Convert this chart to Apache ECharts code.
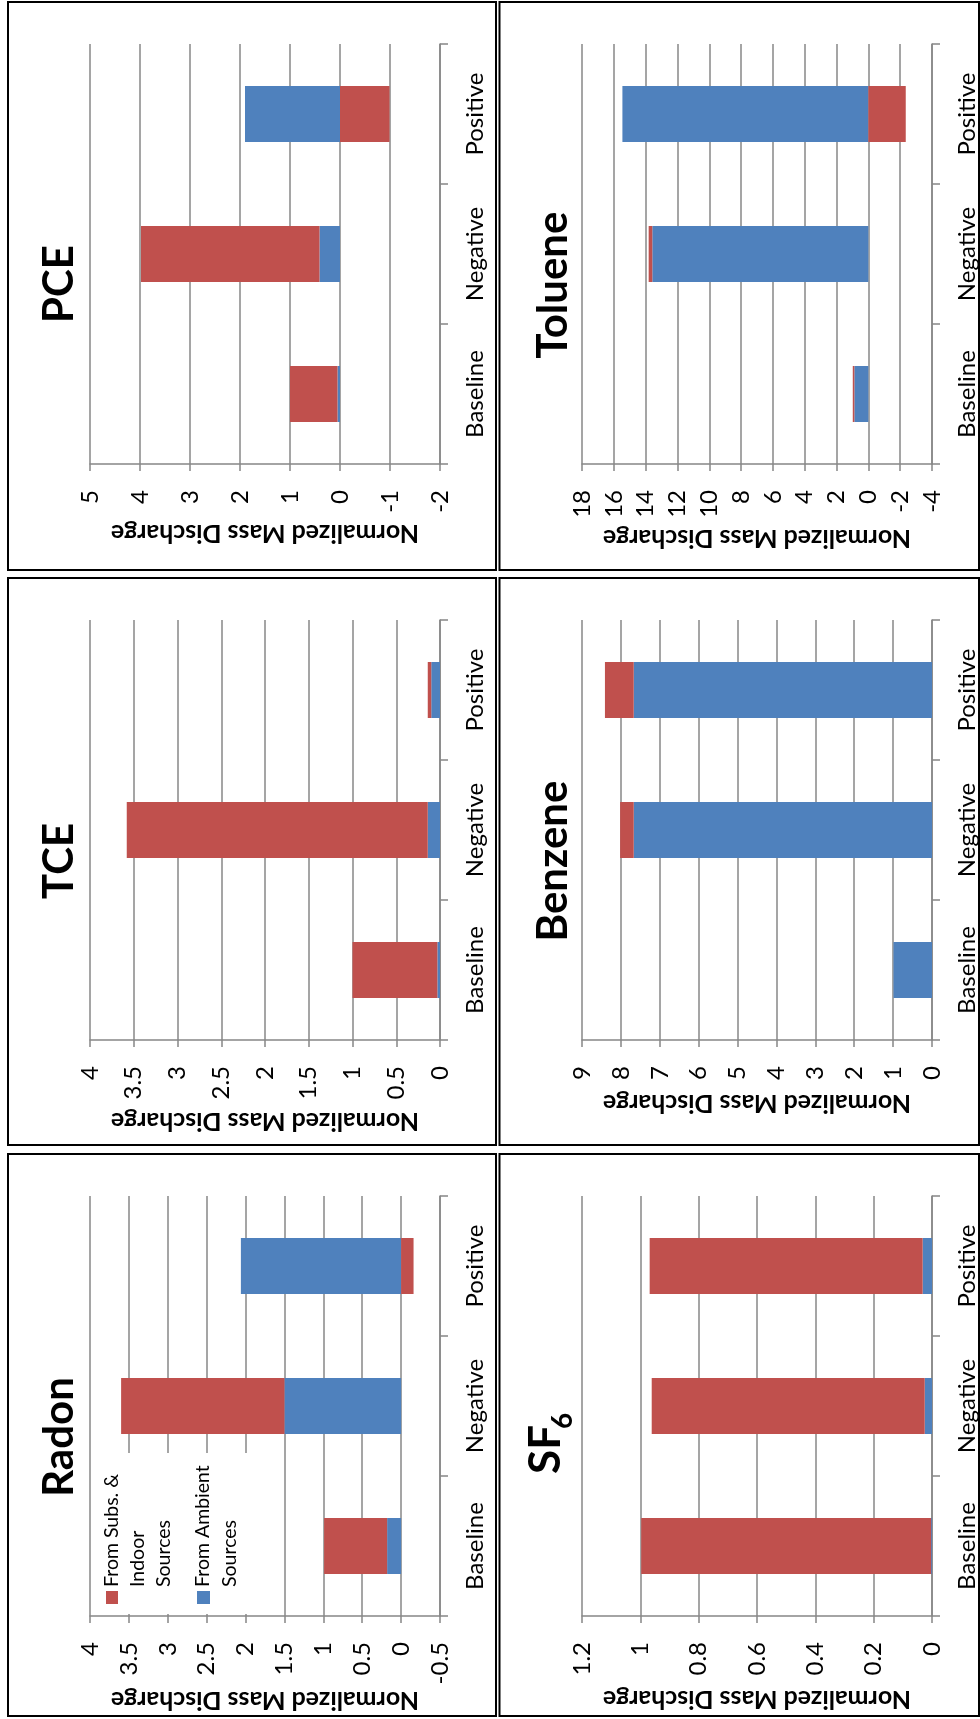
<!DOCTYPE html>
<html>
<head>
<meta charset="utf-8">
<script src="https://cdn.jsdelivr.net/npm/echarts@6/dist/echarts.min.js"></script>
<style>
  html, body { margin: 0; padding: 0; background: #ffffff; }
  #chart { width: 980px; height: 1719px; }
</style>
</head>
<body>
<div id="chart"></div>
<script>
// ---------------- data ----------------
const categories = ['Baseline', 'Negative', 'Positive'];
const seriesNames = ['From Ambient Sources', 'From Subs. & Indoor Sources'];

const pceAmbient = [0.05, 0.41, 1.90];
const pceSubsIndoor = [0.95, 3.57, -0.99];

const tolueneAmbient = [0.88, 13.58, 15.46];
const tolueneSubsIndoor = [0.10, 0.23, -2.35];

const tceAmbient = [0.03, 0.14, 0.10];
const tceSubsIndoor = [0.97, 3.44, 0.04];

const benzeneAmbient = [0.99, 7.67, 7.67];
const benzeneSubsIndoor = [0.00, 0.35, 0.74];

const radonAmbient = [0.18, 1.50, 2.06];
const radonSubsIndoor = [0.81, 2.10, -0.16];

const sf6Ambient = [0.003, 0.025, 0.032];
const sf6SubsIndoor = [0.994, 0.936, 0.936];

// value-axis tick ranges [min, max, interval]
const pceTicks = [-2, 5, 1];
const tolueneTicks = [-4, 18, 2];
const tceTicks = [0, 4, 0.5];
const benzeneTicks = [0, 9, 1];
const radonTicks = [-0.5, 4, 0.5];
const sf6Ticks = [0, 1.2, 0.2];

const axisTitle = 'Normalized Mass Discharge';

// ---------------- layout ----------------
const panels = [
  { title: 'PCE',     amb: pceAmbient,     sub: pceSubsIndoor,     ticks: pceTicks,     ox: 0,   oy: 0,    nameGap: 57 },
  { title: 'Toluene', amb: tolueneAmbient, sub: tolueneSubsIndoor, ticks: tolueneTicks, ox: 492, oy: 0,    nameGap: 62 },
  { title: 'TCE',     amb: tceAmbient,     sub: tceSubsIndoor,     ticks: tceTicks,     ox: 0,   oy: 576,  nameGap: 69 },
  { title: 'Benzene', amb: benzeneAmbient, sub: benzeneSubsIndoor, ticks: benzeneTicks, ox: 492, oy: 576,  nameGap: 51 },
  { title: 'Radon',   amb: radonAmbient,   sub: radonSubsIndoor,   ticks: radonTicks,   ox: 0,   oy: 1152, nameGap: 72 },
  { title: 'SF6',     amb: sf6Ambient,     sub: sf6SubsIndoor,     ticks: sf6Ticks,     ox: 492, oy: 1152, nameGap: 71 }
];

const RED = '#C0504D';
const BLUE = '#4F81BD';
const GRID = '#878787';
const FONT = 'Lato, "Open Sans", sans-serif';

const grids = [], xAxes = [], yAxes = [], series = [];
panels.forEach((p, i) => {
  grids.push({ left: 90 + p.ox, top: 44 + p.oy, width: 350, height: 420 });
  xAxes.push({
    gridIndex: i, type: 'value', inverse: true, position: 'bottom',
    min: p.ticks[0], max: p.ticks[1], interval: p.ticks[2],
    axisLine: { show: true, onZero: false, lineStyle: { color: GRID, width: 1.5 } },
    axisTick: { show: true, length: 7, lineStyle: { color: GRID, width: 1.5 } },
    splitLine: { show: true, lineStyle: { color: GRID, width: 1.5 } },
    axisLabel: { rotate: 90, margin: 26, fontFamily: FONT, fontSize: 24, color: '#000', hideOverlap: false },
    name: axisTitle, nameLocation: 'middle', nameRotate: 180, nameGap: p.nameGap,
    nameMoveOverlap: false,
    nameTextStyle: { fontFamily: FONT, fontWeight: 'bold', fontSize: 25, color: '#000' }
  });
  yAxes.push({
    gridIndex: i, type: 'category', data: categories, position: 'right',
    axisLine: { show: true, onZero: false, lineStyle: { color: GRID, width: 1.5 } },
    axisTick: { show: true, length: 8, lineStyle: { color: GRID, width: 1.5 } },
    splitLine: { show: false },
    axisLabel: { rotate: 90, margin: 23, interval: 0, fontFamily: FONT, fontSize: 24, color: '#000' }
  });
  series.push({
    name: seriesNames[0], type: 'bar', stack: 's' + i, xAxisIndex: i, yAxisIndex: i,
    data: p.amb, barCategoryGap: '60%', itemStyle: { color: BLUE }, silent: true
  });
  series.push({
    name: seriesNames[1], type: 'bar', stack: 's' + i, xAxisIndex: i, yAxisIndex: i,
    data: p.sub, barCategoryGap: '60%', itemStyle: { color: RED }, silent: true
  });
});

// ---------------- graphics: frames, titles, legend ----------------
const g = [];
const rows = [[2, 568], [578, 567], [1154, 562]];
const cols = [[8, 488], [499.5, 479.5]];
rows.forEach(r => cols.forEach(c => {
  g.push({ type: 'rect', z: 10, shape: { x: c[0], y: r[0], width: c[1], height: r[1] },
           style: { fill: null, stroke: '#000', lineWidth: 2 } });
}));

function rtext(txt, x, y, size, bold, align) {
  return { type: 'text', x: x, y: y, rotation: Math.PI / 2, z: 10,
    style: { text: txt, fontFamily: FONT, fontSize: size, fontWeight: bold ? 'bold' : 'normal',
             fill: '#000', align: align || 'center', verticalAlign: 'middle' } };
}
g.push(rtext('PCE', 59.5, 284, 42, true));
g.push(rtext('Toluene', 553.5, 285, 42, true));
g.push(rtext('TCE', 59.5, 861, 42, true));
g.push(rtext('Benzene', 553.5, 861, 42, true));
g.push(rtext('Radon', 59.5, 1437, 42, true));
g.push(rtext('SF', 546, 1474, 44, true, 'left'));
g.push(rtext('6', 563, 1429, 28, true, 'left'));

// legend (inside Radon plot)
g.push({ type: 'rect', z: 5, shape: { x: 95, y: 1453, width: 170, height: 1614 - 1453 },
         style: { fill: '#fff', stroke: null } });
g.push({ type: 'rect', z: 6, shape: { x: 106, y: 1591, width: 12, height: 13 }, style: { fill: RED } });
g.push({ type: 'rect', z: 6, shape: { x: 197, y: 1591, width: 13, height: 13 }, style: { fill: BLUE } });
const legendLines = [['From Subs. &', 112], ['Indoor', 137.5], ['Sources', 163.5], ['From Ambient', 203], ['Sources', 229.5]];
legendLines.forEach(l => g.push(rtext(l[0], l[1], 1587, 19.5, false, 'left')));

const chart = echarts.init(document.getElementById('chart'), null, { renderer: 'canvas' });
chart.setOption({
  animation: false,
  backgroundColor: '#ffffff',
  grid: grids,
  xAxis: xAxes,
  yAxis: yAxes,
  series: series,
  graphic: { elements: g }
});
</script>
</body>
</html>
